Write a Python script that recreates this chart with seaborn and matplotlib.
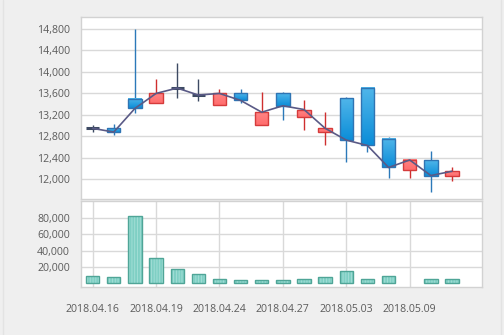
import numpy as np
import pandas as pd
import matplotlib
matplotlib.use("Agg")
import matplotlib.pyplot as plt
from matplotlib.colors import LinearSegmentedColormap
from matplotlib.lines import Line2D
import seaborn as sns

# Daily OHLC prices and traded volume
dates = ["2018.04.16", "2018.04.17", "2018.04.18", "2018.04.19", "2018.04.20",
         "2018.04.23", "2018.04.24", "2018.04.25", "2018.04.26", "2018.04.27",
         "2018.04.30", "2018.05.02", "2018.05.03", "2018.05.04", "2018.05.08",
         "2018.05.09", "2018.05.10", "2018.05.11"]
open_ = [12950, 12950, 13500, 13420, 13700, 13570, 13380, 13600, 13020, 13600,
         13170, 12880, 13510, 13700, 12760, 12170, 12360, 12070]
high = [13010, 13030, 14800, 13860, 14160, 13860, 13680, 13680, 13620, 13620,
        13470, 13260, 13530, 13720, 12780, 12380, 12530, 12220]
low = [12880, 12820, 13230, 13420, 13520, 13460, 13380, 13420, 13020, 13110,
       12920, 12630, 12320, 12510, 12020, 12020, 11770, 11970]
close = [12950, 12880, 13320, 13600, 13700, 13570, 13600, 13470, 13250, 13370,
         13300, 12950, 12730, 12630, 12220, 12360, 12070, 12150]
volume = [8900, 7700, 82400, 31000, 17500, 11400, 5300, 4000, 4000, 4000,
          5300, 7700, 15000, 5300, 8900, np.nan, 5300, 5300]

price_ticks = [12000, 12400, 12800, 13200, 13600, 14000, 14400, 14800]
volume_ticks = [20000, 40000, 60000, 80000]
label_every = 3

df = pd.DataFrame({"date": dates, "open": open_, "high": high, "low": low,
                   "close": close, "volume": volume})
df["i"] = np.arange(len(df))

sns.set_theme(style="white")
plt.rcParams["font.family"] = ["Open Sans", "DejaVu Sans"]
plt.rcParams["hatch.linewidth"] = 0.6

BG = "#efefef"
GRID = "#d9d9d9"
SPINE = "#d2d2d2"
TXT = "#5b5b5b"

fig = plt.figure(figsize=(5.04, 3.35), dpi=100, facecolor=BG)
W, H = 504, 335


def box(x0, y0, x1, y1):
    return [x0 / W, 1 - y1 / H, (x1 - x0) / W, (y1 - y0) / H]


ax_p = fig.add_axes(box(81, 17, 482, 199))
ax_v = fig.add_axes(box(81, 201, 482, 287))

fig.add_artist(Line2D([2.5 / W, 2.5 / W], [0, 1], color="#e3e3e3", lw=1))
fig.add_artist(Line2D([501 / W, 501 / W], [0, 1], color="#e3e3e3", lw=1))

blue_map = LinearSegmentedColormap.from_list("down", ["#0c8dd8", "#50b6ea"])
red_map = LinearSegmentedColormap.from_list("up", ["#ff6c6c", "#ff8585"])
grad = np.linspace(0, 1, 64).reshape(-1, 1)

body_w = 0.63
for _, r in df.iterrows():
    x = r["i"]
    if r["close"] > r["open"]:
        wick_c, edge_c, cmap = "#cf2f2f", "#d53b3b", red_map
    elif r["close"] < r["open"]:
        wick_c, edge_c, cmap = "#2b79b9", "#2f74b3", blue_map
    else:
        wick_c, edge_c, cmap = "#3d4a63", "#3d4a63", None
    ax_p.vlines(x, r["low"], r["high"], color=wick_c, lw=1.0, zorder=2)
    if cmap is None:
        ax_p.hlines(r["open"], x - body_w / 2, x + body_w / 2,
                    color=edge_c, lw=2.2, zorder=3)
    else:
        lo, hi = sorted([r["open"], r["close"]])
        ax_p.imshow(grad, extent=[x - body_w / 2, x + body_w / 2, lo, hi],
                    origin="lower", aspect="auto", cmap=cmap,
                    interpolation="bilinear", zorder=3)
        ax_p.bar(x, hi - lo, bottom=lo, width=body_w, facecolor="none",
                 edgecolor=edge_c, lw=1.0, zorder=4)

sns.lineplot(data=df, x="i", y="close", ax=ax_p, color="#5a5a86", lw=1.2,
             zorder=5)

# volume bars: striped fill, then outline
sns.barplot(data=df, x="i", y="volume", ax=ax_v, native_scale=True,
            width=body_w, color="#7fcfc4", edgecolor="#a6e0d8", linewidth=0,
            hatch="||||||", saturation=1, errorbar=None, zorder=3)
sns.barplot(data=df, x="i", y="volume", ax=ax_v, native_scale=True,
            width=body_w, fill=False, color="#4fa597", linewidth=1.0,
            errorbar=None, zorder=4)

for ax in (ax_p, ax_v):
    ax.set_facecolor("white")
    ax.set_xlim(-0.55, 18.42)
    ax.set_xlabel("")
    ax.set_ylabel("")
    for s in ax.spines.values():
        s.set_color(SPINE)
        s.set_linewidth(1.0)
    ax.tick_params(length=0, labelsize=7.6, labelcolor=TXT, pad=8)
    ax.set_axisbelow(True)

ax_p.set_ylim(11633, 15024)
ax_p.set_yticks(price_ticks)
ax_p.set_yticklabels([f"{v:,}" for v in price_ticks])
ax_p.set_xticks([])
ax_p.grid(axis="y", color=GRID, lw=1.0)

ax_v.set_ylim(-4900, 101000)
ax_v.set_yticks(volume_ticks)
ax_v.set_yticklabels([f"{v:,}" for v in volume_ticks])
tick_idx = list(range(0, len(dates), label_every))
ax_v.set_xticks(tick_idx)
ax_v.set_xticklabels([dates[i] for i in tick_idx])
ax_v.tick_params(axis="x", pad=12)
ax_v.grid(True, color=GRID, lw=1.0)

fig.savefig("out.png", dpi=100, facecolor=BG)
